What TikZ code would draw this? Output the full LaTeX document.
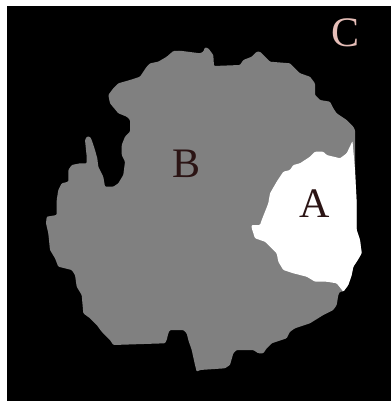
\documentclass[tikz,border=0pt]{standalone}
\usepackage{fontspec}
\setmainfont{Liberation Serif}
\definecolor{blobgray}{HTML}{808080}
\definecolor{lblpink}{HTML}{E6BEB8}
\definecolor{lbldark}{HTML}{2B1414}
\begin{document}
\begin{tikzpicture}[x=1pt,y=-1pt,
  lbl/.style={inner sep=0pt,anchor=base,font=\fontsize{42}{42}\selectfont},
  region/.style={line join=round,rounded corners=1pt}]
\useasboundingbox (0,0) rectangle (391,401);
\fill[white] (0,0) rectangle (391,401);
\fill[black] (7,6) rectangle (391,401);
% region B (gray blob)
\fill[blobgray,region] (146.7,66.7) -- (150,63.3) -- (158.3,61.7) -- (166.7,56.7) -- (173.3,51) -- (180,50.7) -- (200,53.3) -- (203.3,51.7) -- (205,47.3) -- (208.3,48.3) -- (213.3,55) -- (214,66) -- (240,65) -- (243.3,60) -- (251.7,56.7) -- (256.7,51.7) -- (260,51.7) -- (265,56.7) -- (270,61.7) -- (290,63.3) -- (296.7,70) -- (300,73.3) -- (310,76.7) -- (315,83.3) -- (315,95) -- (320,100) -- (330,101.7) -- (333.3,108.3) -- (336.7,113.3) -- (346.7,120) -- (353.3,126.7) -- (355,130) -- (355,170) -- (356.7,203.3) -- (356.7,230) -- (360,240) -- (361.7,253.3) -- (356.7,261.7) -- (353.3,266.7) -- (351.7,275) -- (348.3,285) -- (343.3,291.7) -- (340,291.7) -- (338.3,295) -- (336.7,305) -- (333.3,310) -- (323.3,315) -- (310,323.3) -- (295,328.3) -- (290,331.7) -- (286.7,338.3) -- (271.7,343.3) -- (266.7,348.3) -- (263.3,353.3) -- (258.3,353.3) -- (253.3,350) -- (236.7,350) -- (233.3,353.3) -- (230,365) -- (225,368.3) -- (200,370) -- (196.7,371.7) -- (195,365) -- (191.7,350) -- (188.3,340) -- (186.7,333.3) -- (183.3,330) -- (170,330) -- (168.3,333.3) -- (166.7,340) -- (165,343.3) -- (113.3,345) -- (110,340) -- (101.7,331.7) -- (96.7,325) -- (90,318.3) -- (83.3,313.3) -- (81.7,295) -- (76.7,286.7) -- (75,275) -- (71.7,270) -- (58.3,266.7) -- (55,258.3) -- (50,250) -- (48.3,233.3) -- (46,223.3) -- (46.7,216.7) -- (56.7,215) -- (56.7,200) -- (58.3,190) -- (61.7,183.3) -- (68.3,181.7) -- (68.3,170) -- (71.7,165) -- (80,163.3) -- (86.7,163.3) -- (86.7,156.7) -- (85,140) -- (86.7,136.7) -- (90,136.7) -- (91.7,140) -- (95,150) -- (97.3,158.3) -- (98.3,166.7) -- (103.3,176.7) -- (105,186.7) -- (113.3,186.7) -- (118.3,183.3) -- (123.3,175) -- (125,161.7) -- (121.7,155) -- (121.7,145) -- (125,136.7) -- (130,131.7) -- (130,120) -- (126.7,116.7) -- (118.3,113.3) -- (110,103.3) -- (108.3,95) -- (113.3,88.3) -- (118.3,83.3) -- (130,80) -- (140,76.7) -- cycle;
% region A (white)
\fill[white,region] (352.5,141) -- (355,170) -- (356.7,203.3) -- (356.7,230) -- (360,240) -- (361.7,253.3) -- (356.7,261.7) -- (353.3,266.7) -- (351.7,275) -- (348.3,285) -- (343.3,291.7) -- (336.7,283.3) -- (326.7,281.7) -- (315,281.7) -- (306.7,276.7) -- (293.3,273.3) -- (283.3,270) -- (278.3,261.7) -- (276.7,253.3) -- (270,246.7) -- (265,241.7) -- (255,238.3) -- (251.7,228.3) -- (251.7,225) -- (260,225) -- (261.7,220) -- (265,211.7) -- (268.3,203.3) -- (270,193.3) -- (276.7,181.7) -- (280,176.7) -- (283.3,171.7) -- (290,170) -- (293.3,165) -- (300,163.3) -- (310,156.7) -- (315,151.7) -- (323.3,151.7) -- (326.7,155) -- (340,158.3) -- (346.7,153.3) -- cycle;
\node[lbl,text=lblpink] (C) at (345.5,47) {C};
\node[lbl,text=lbldark] (B) at (186.5,177) {B};
\node[lbl,text=lbldark] (A) at (315,217) {A};
\end{tikzpicture}
\end{document}
